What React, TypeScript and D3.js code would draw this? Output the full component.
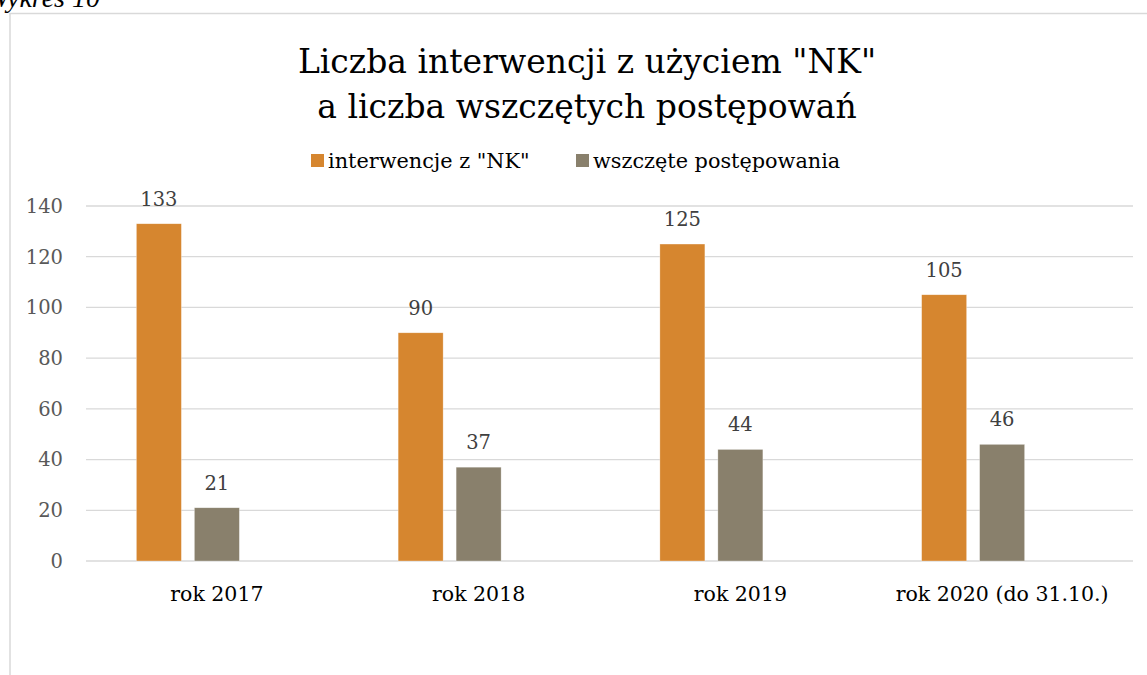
import React from 'react';
import * as d3 from 'd3';

// data
const categories = ['rok 2017', 'rok 2018', 'rok 2019', 'rok 2020 (do 31.10.)'];
const interwencje = [133, 90, 125, 105];
const wszczete = [21, 37, 44, 46];
const yTicks = [0, 20, 40, 60, 80, 100, 120, 140];
const seriesNames = ['interwencje z "NK"', 'wszczęte postępowania'];
const seriesColors = ['#D6862F', '#89806C'];

const W = 1147;
const H = 675;
const FONT = '"DejaVu Serif", serif';

const App = () => {
  const left = 86;
  const right = 1133;
  const top = 206;
  const bottom = 561;

  const x = d3.scaleBand().domain(categories).range([left, right]);
  // Excel cluster keeps room for a third (empty) series slot
  const groupW = x.bandwidth() * 0.615;
  const slot = d3.scaleBand()
    .domain(['s0', 's1', 's2'])
    .range([-groupW / 2, groupW / 2])
    .paddingInner(0.224);

  const y = d3.scaleLinear().domain([0, 140]).range([bottom, top]);

  const series = [interwencje, wszczete];

  return (
    <svg width={W} height={H} style={{ position: 'absolute', left: 0, top: 0, background: '#fff' }}>
      <text x={100} y={7} textAnchor="end" fontFamily='"Liberation Serif", serif'
        fontStyle="italic" fontSize={28} fill="#000">Wykres 10</text>

      {/* chart frame */}
      <line x1={10} x2={W} y1={13.5} y2={13.5} stroke="#d9d9d9" strokeWidth={1.5} />
      <line x1={10} x2={10} y1={13} y2={H} stroke="#d9d9d9" strokeWidth={1.5} />

      <g fontFamily={FONT} fill="#000" textAnchor="middle">
        <text x={587} y={73} fontSize={33}>Liczba interwencji z użyciem "NK"</text>
        <text x={587} y={118} fontSize={33}>a liczba wszczętych postępowań</text>
      </g>

      {/* legend */}
      <g fontFamily={FONT} fontSize={20.8} fill="#000">
        <rect x={311} y={154} width={13} height={13} fill={seriesColors[0]} />
        <text x={328} y={168}>{seriesNames[0]}</text>
        <rect x={576} y={154} width={13} height={13} fill={seriesColors[1]} />
        <text x={593} y={168}>{seriesNames[1]}</text>
      </g>

      {/* gridlines + y labels */}
      {yTicks.map(t => (
        <g key={t}>
          <line x1={left} x2={right} y1={y(t)} y2={y(t)} stroke="#d9d9d9" strokeWidth={1.3} />
          <text x={63} y={y(t)} dy="0.35em" textAnchor="end" fontFamily={FONT} fontSize={19.5}
            fill="#595959">{t}</text>
        </g>
      ))}

      {/* bars */}
      {series.map((vals, si) => (
        <g key={si}>
          {vals.map((v, i) => {
            const bx = x(categories[i])! + x.bandwidth() / 2 + slot('s' + si)!;
            return (
              <g key={i}>
                <rect x={bx} y={y(v)} width={slot.bandwidth()} height={y(0) - y(v)}
                  fill={seriesColors[si]} stroke="#fff" strokeWidth={0.6} strokeOpacity={0.5} />
                <text x={bx + slot.bandwidth() / 2} y={y(v) - 18} textAnchor="middle"
                  fontFamily={FONT} fontSize={19.5} fill="#404040">{v}</text>
              </g>
            );
          })}
        </g>
      ))}

      {/* category labels */}
      {categories.map(c => (
        <text key={c} x={x(c)! + x.bandwidth() / 2} y={601} textAnchor="middle"
          fontFamily={FONT} fontSize={20.5} fill="#000">{c}</text>
      ))}
    </svg>
  );
};

export default App;
